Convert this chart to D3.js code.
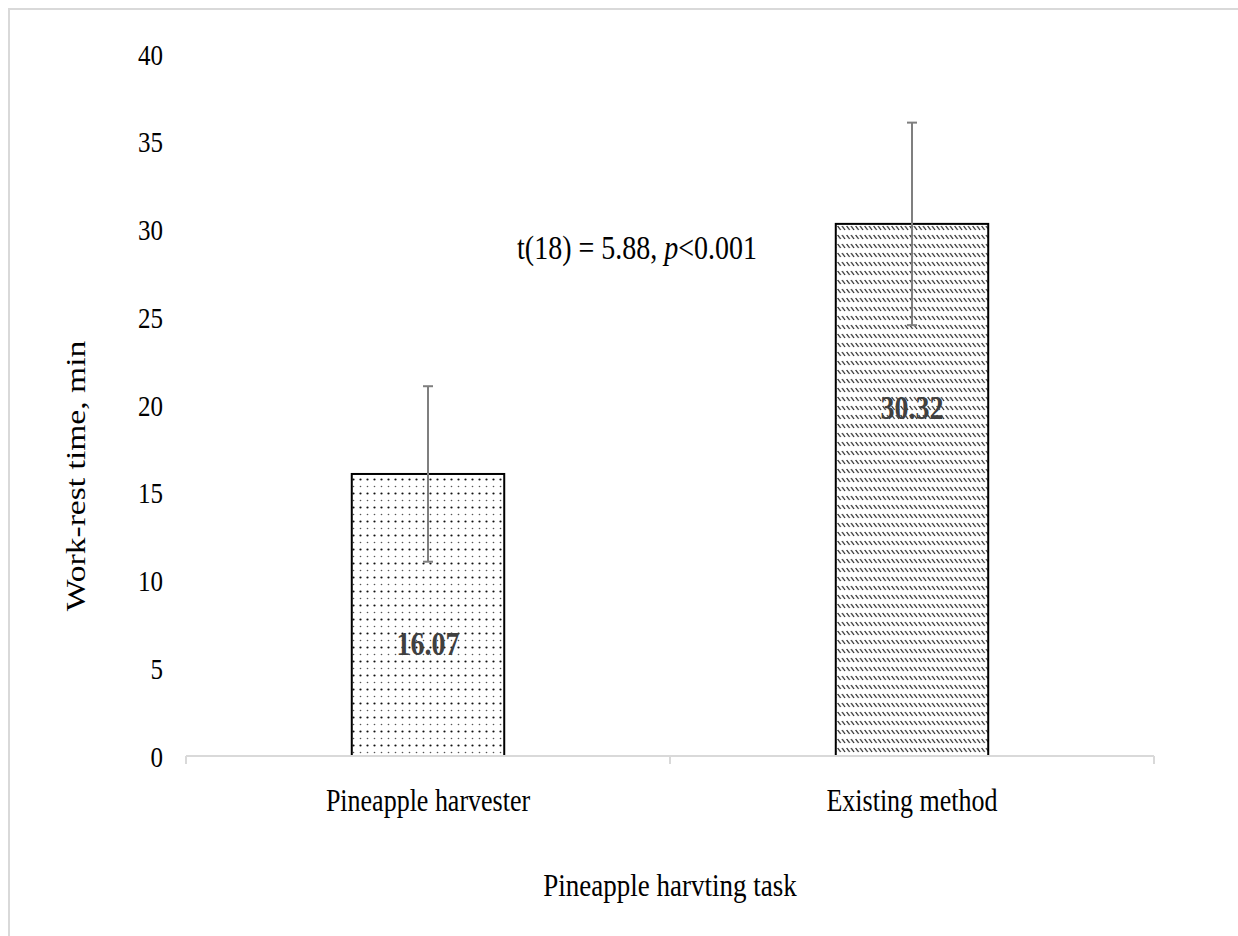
<!DOCTYPE html>
<html>
<head>
<meta charset="utf-8">
<script src="https://cdn.jsdelivr.net/npm/d3@7"></script>
<style>
  body { margin: 0; background: #fff; }
  text { font-family: "Liberation Serif", "Times New Roman", serif; }
</style>
</head>
<body>
<div id="chart"></div>
<script>
// data
const categories = ["Pineapple harvester", "Existing method"];
const means = [16.07, 30.32];
const errors = [5.0, 5.77];
const yTicks = [0, 5, 10, 15, 20, 25, 30, 35, 40];
const patterns = ["dots", "waves"];

const width = 1238, height = 936;
const margin = { top: 54, left: 186, right: 84, bottom: 180 };
// the original figure's text is drawn a little taller than wide
const stretch = "scale(1,1.2)";

const svg = d3.select("#chart").append("svg")
    .attr("width", width)
    .attr("height", height);

// light frame round the chart area
svg.append("path")
    .attr("d", `M9,${height} L9,9 L${width},9`)
    .attr("fill", "none")
    .attr("stroke", "#d9d9d9")
    .attr("stroke-width", 2);

// fill patterns
const defs = svg.append("defs");
const dots = defs.append("pattern")
    .attr("id", "dots")
    .attr("patternUnits", "userSpaceOnUse")
    .attr("width", 7)
    .attr("height", 14);
dots.append("rect").attr("width", 7).attr("height", 14).attr("fill", "#fff");
dots.append("circle").attr("cx", 3.5).attr("cy", 3.5).attr("r", 1.1).attr("fill", "#111");
dots.append("circle").attr("cx", 3.5).attr("cy", 10.5).attr("r", 0.8).attr("fill", "#555");

const waves = defs.append("pattern")
    .attr("id", "waves")
    .attr("patternUnits", "userSpaceOnUse")
    .attr("width", 4.5)
    .attr("height", 9);
waves.append("rect").attr("width", 4.5).attr("height", 9).attr("fill", "#fff");
waves.append("path")
    .attr("d", "M0.6,1 L3.6,5")
    .attr("stroke", "#111")
    .attr("stroke-width", 1.2);

// scales
const x = d3.scaleBand()
    .domain(categories)
    .range([margin.left, width - margin.right]);
const barWidth = x.bandwidth() * 0.315;

const y = d3.scaleLinear()
    .domain([0, 40])
    .range([height - margin.bottom, margin.top]);
const y0 = y(0);

// y tick labels (no axis line)
svg.append("g")
    .selectAll("text")
    .data(yTicks)
    .join("text")
    .attr("transform", d => `translate(163,${y(d)}) ${stretch}`)
    .attr("dy", "0.35em")
    .attr("text-anchor", "end")
    .attr("font-size", 25)
    .attr("fill", "#000")
    .text(d => d);

// bars
svg.append("g")
    .selectAll("rect")
    .data(means)
    .join("rect")
    .attr("x", (d, i) => x(categories[i]) + x.bandwidth() / 2 - barWidth / 2)
    .attr("y", d => y(d))
    .attr("width", barWidth)
    .attr("height", d => y0 - y(d))
    .attr("fill", (d, i) => `url(#${patterns[i]})`)
    .attr("stroke", "#000")
    .attr("stroke-width", 2);

// x axis: grey baseline with ticks at the category boundaries
const gx = svg.append("g")
    .attr("transform", `translate(0,${y0})`);
gx.append("line")
    .attr("x1", margin.left).attr("x2", width - margin.right)
    .attr("stroke", "#d9d9d9").attr("stroke-width", 2);
const bounds = [margin.left, ...categories.slice(1).map(c => x(c)), width - margin.right];
gx.selectAll(".tickmark")
    .data(bounds)
    .join("line")
    .attr("class", "tickmark")
    .attr("x1", d => d).attr("x2", d => d)
    .attr("y1", 0).attr("y2", 8)
    .attr("stroke", "#d9d9d9").attr("stroke-width", 2);

// error bars
const eb = svg.append("g")
    .attr("stroke", "#7f7f7f")
    .attr("stroke-width", 2);
means.forEach((m, i) => {
    const cx = x(categories[i]) + x.bandwidth() / 2;
    const hi = y(m + errors[i]), lo = y(m - errors[i]);
    eb.append("line").attr("x1", cx).attr("x2", cx).attr("y1", hi).attr("y2", lo);
    eb.append("line").attr("x1", cx - 5).attr("x2", cx + 5).attr("y1", hi).attr("y2", hi);
    eb.append("line").attr("x1", cx - 5).attr("x2", cx + 5).attr("y1", lo).attr("y2", lo);
});

// value labels
svg.append("g")
    .selectAll("text")
    .data(means)
    .join("text")
    .attr("transform", (d, i) =>
        `translate(${x(categories[i]) + x.bandwidth() / 2},${y(d - errors[i]) + 82}) ${stretch}`)
    .attr("dy", "0.35em")
    .attr("text-anchor", "middle")
    .attr("font-size", 28)
    .attr("font-weight", "bold")
    .attr("fill", "#404040")
    .text(d => d.toFixed(2));

// category labels
svg.append("g")
    .selectAll("text")
    .data(categories)
    .join("text")
    .attr("transform", d => `translate(${x(d) + x.bandwidth() / 2},${y0 + 44}) ${stretch}`)
    .attr("dy", "0.35em")
    .attr("text-anchor", "middle")
    .attr("font-size", 26)
    .text(d => d);

// axis titles
svg.append("text")
    .attr("transform", `translate(${(margin.left + width - margin.right) / 2},885) ${stretch}`)
    .attr("dy", "0.35em")
    .attr("text-anchor", "middle")
    .attr("font-size", 27)
    .text("Pineapple harvting task");

svg.append("text")
    .attr("transform", `translate(75,476) ${stretch} rotate(-90)`)
    .attr("dy", "0.35em")
    .attr("text-anchor", "middle")
    .attr("font-size", 28)
    .text("Work-rest time, min");

// t-test annotation
const note = svg.append("text")
    .attr("transform", `translate(637,247) ${stretch}`)
    .attr("dy", "0.35em")
    .attr("text-anchor", "middle")
    .attr("font-size", 28);
note.append("tspan").text("t(18) = 5.88, ");
note.append("tspan").attr("font-style", "italic").text("p");
note.append("tspan").text("<0.001");
</script>
</body>
</html>
